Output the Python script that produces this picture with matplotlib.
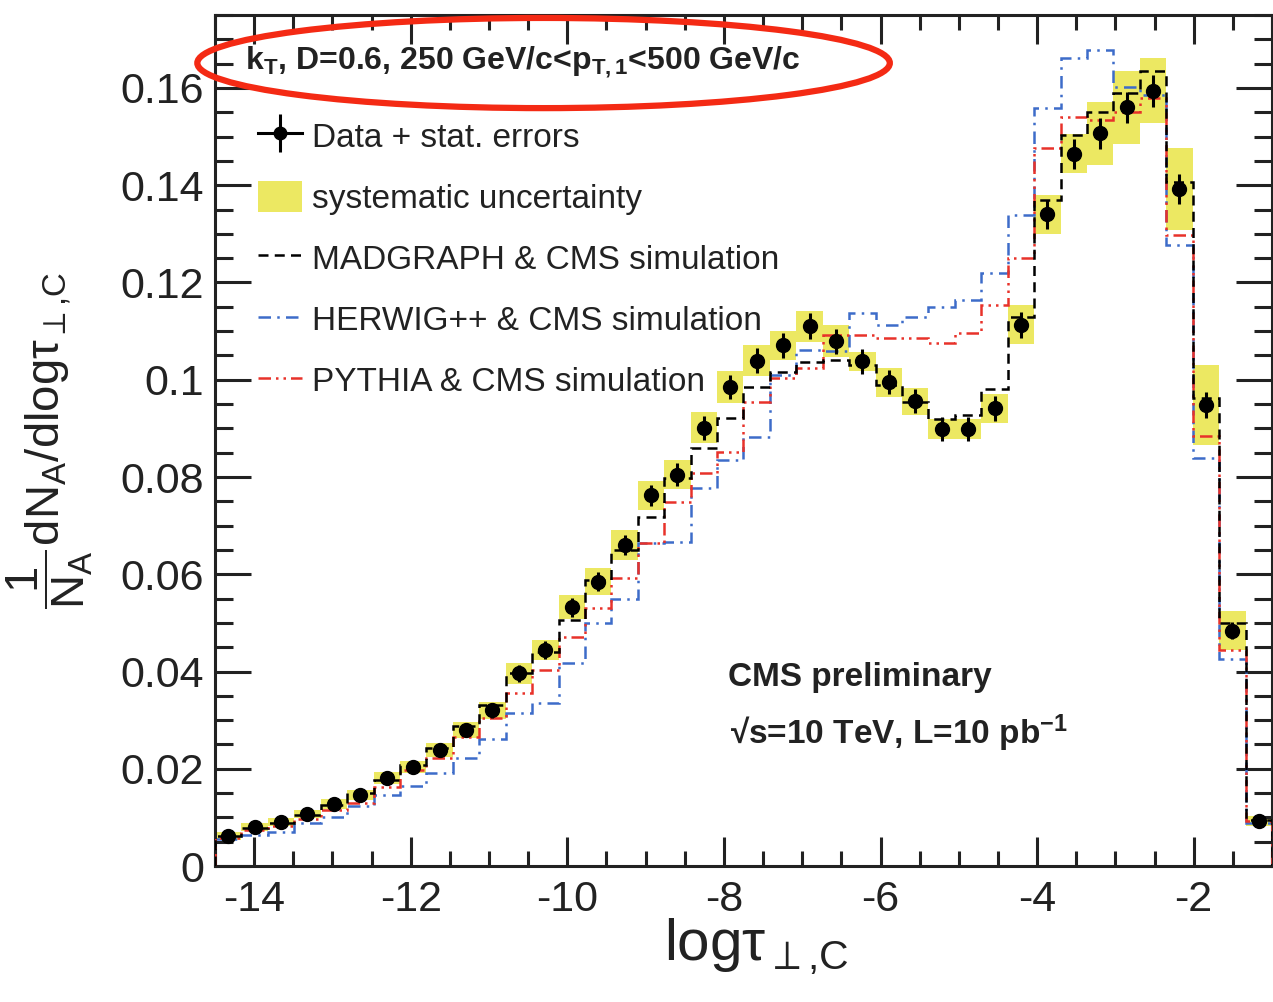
import numpy as np
import matplotlib.pyplot as plt
from matplotlib.lines import Line2D
from matplotlib.patches import Patch, Ellipse
from matplotlib.ticker import MultipleLocator, FuncFormatter

plt.rcParams['font.family'] = ['Liberation Sans', 'DejaVu Sans']
plt.rcParams['mathtext.fontset'] = 'custom'
plt.rcParams['mathtext.rm'] = 'Liberation Sans'
plt.rcParams['mathtext.it'] = 'Liberation Sans:italic'
plt.rcParams['mathtext.bf'] = 'Liberation Sans:bold'
plt.rcParams['mathtext.default'] = 'regular'
plt.rcParams['axes.unicode_minus'] = False

# binning of log(tau_perp,C)
x_lo, x_hi, n_bins = -14.5, -1.0, 40

data = [0.0062, 0.0081, 0.0091, 0.0107, 0.0127, 0.0146, 0.0181, 0.0204, 0.0239, 0.0280,
        0.0320, 0.0396, 0.0444, 0.0532, 0.0585, 0.0660, 0.0762, 0.0805, 0.0901, 0.0985,
        0.1039, 0.1071, 0.1110, 0.1079, 0.1038, 0.0995, 0.0956, 0.0899, 0.0899, 0.0941,
        0.1113, 0.1340, 0.1465, 0.1507, 0.1560, 0.1594, 0.1392, 0.0948, 0.0484, 0.0093]
stat = [0.0006, 0.0007, 0.0007, 0.0008, 0.0009, 0.0010, 0.0011, 0.0012, 0.0013, 0.0014,
        0.0015, 0.0017, 0.0018, 0.0019, 0.0020, 0.0021, 0.0022, 0.0023, 0.0024, 0.0025,
        0.0026, 0.0026, 0.0027, 0.0026, 0.0026, 0.0025, 0.0025, 0.0024, 0.0024, 0.0025,
        0.0027, 0.0030, 0.0031, 0.0032, 0.0032, 0.0033, 0.0031, 0.0026, 0.0018, 0.0008]
syst = [0.0008, 0.0008, 0.0008, 0.0009, 0.0010, 0.0010, 0.0013, 0.0013, 0.0014, 0.0017,
        0.0018, 0.0022, 0.0020, 0.0025, 0.0027, 0.0030, 0.0030, 0.0030, 0.0032, 0.0032,
        0.0032, 0.0030, 0.0032, 0.0033, 0.0020, 0.0030, 0.0028, 0.0020, 0.0020, 0.0030,
        0.0040, 0.0040, 0.0040, 0.0065, 0.0075, 0.0067, 0.0085, 0.0082, 0.0040, 0.0010]

madgraph = [0.0062, 0.0079, 0.0089, 0.0105, 0.0126, 0.0150, 0.0177, 0.0208, 0.0243, 0.0288,
            0.0331, 0.0397, 0.0440, 0.0506, 0.0588, 0.0650, 0.0718, 0.0798, 0.0860, 0.0921,
            0.0985, 0.1016, 0.1037, 0.1040, 0.1030, 0.0990, 0.0955, 0.0920, 0.0928, 0.0980,
            0.1130, 0.1370, 0.1503, 0.1551, 0.1590, 0.1634, 0.1407, 0.0962, 0.0500, 0.0095]
herwig = [0.0056, 0.0064, 0.0071, 0.0089, 0.0101, 0.0123, 0.0146, 0.0164, 0.0191, 0.0222,
          0.0261, 0.0315, 0.0335, 0.0418, 0.0500, 0.0549, 0.0664, 0.0667, 0.0777, 0.0835,
          0.0883, 0.1010, 0.1061, 0.1060, 0.1137, 0.1113, 0.1130, 0.1150, 0.1164, 0.1220,
          0.1339, 0.1559, 0.1662, 0.1678, 0.1603, 0.1586, 0.1277, 0.0840, 0.0426, 0.0088]
pythia = [0.0058, 0.0074, 0.0082, 0.0096, 0.0115, 0.0130, 0.0163, 0.0197, 0.0222, 0.0266,
          0.0304, 0.0356, 0.0403, 0.0472, 0.0531, 0.0592, 0.0664, 0.0749, 0.0808, 0.0852,
          0.0955, 0.1003, 0.1024, 0.1092, 0.1092, 0.1086, 0.1086, 0.1076, 0.1096, 0.1154,
          0.1250, 0.1477, 0.1541, 0.1534, 0.1551, 0.1580, 0.1298, 0.0885, 0.0445, 0.0093]

labels = ['Data + stat. errors', 'systematic uncertainty', 'MADGRAPH & CMS simulation',
          'HERWIG++ & CMS simulation', 'PYTHIA & CMS simulation']

yellow = '#ece862'
blue = '#3d6cc9'
red = '#e8322a'
ls_mad = (0, (4, 2.5))
ls_her = (0, (5, 2.5, 1, 2.5))
ls_pyt = (0, (5, 2, 1, 2, 1, 2))

edges = np.linspace(x_lo, x_hi, n_bins + 1)
centers = 0.5 * (edges[:-1] + edges[1:])
bw = edges[1] - edges[0]
data = np.array(data)
syst = np.array(syst)

fig = plt.figure(figsize=(12.73, 10.02), dpi=100)
ax = fig.add_axes([0.1689, 0.1357, 0.8303, 0.8493])

ax.bar(centers, 2 * syst, bottom=data - syst, width=bw, color=yellow, lw=0, zorder=1)
ax.stairs(herwig, edges, color=blue, lw=1.8, ls=ls_her, zorder=2)
ax.stairs(pythia, edges, color=red, lw=1.8, ls=ls_pyt, zorder=3)
ax.stairs(madgraph, edges, color='black', lw=1.8, ls=ls_mad, zorder=4)
ax.errorbar(centers, data, yerr=stat, fmt='o', color='black', ms=10,
            elinewidth=2.2, capsize=0, zorder=5)

ax.set_xlim(x_lo, x_hi)
ax.set_ylim(0, 0.175)
ax.xaxis.set_major_locator(MultipleLocator(2))
ax.xaxis.set_minor_locator(MultipleLocator(0.5))
ax.yaxis.set_major_locator(MultipleLocator(0.02))
ax.yaxis.set_minor_locator(MultipleLocator(0.005))
ax.yaxis.set_major_formatter(FuncFormatter(lambda v, p: f'{round(v, 3):g}'))
ax.xaxis.set_major_formatter(FuncFormatter(lambda v, p: f'{v:g}'))

ax.tick_params(which='both', direction='in', top=True, right=True, width=2.2,
               labelsize=31, colors='#222222')
ax.tick_params(axis='x', which='major', length=21, pad=10)
ax.tick_params(axis='x', which='minor', length=11)
ax.tick_params(axis='y', which='major', length=26, pad=8)
ax.tick_params(axis='y', which='minor', length=13)
for s in ax.spines.values():
    s.set_linewidth(2.2)
    s.set_color('#222222')

ax.set_xlabel(r'log$\tau_{{\perp}{,}C}$', fontsize=42, color='#222222')
ax.xaxis.set_label_coords(0.512, -0.06)
ax.set_ylabel(r'$\dfrac{1}{N_A}dN_A/dlog\tau_{{\perp}{,}C}$', fontsize=34, color='#222222')
ax.yaxis.set_label_coords(-0.114, 0.5)

handles = [
    (Line2D([], [], color='black', marker='o', ms=9, lw=2.2),
     Line2D([], [], color='black', marker='|', ms=27, mew=2.2, ls='none')),
    Patch(facecolor=yellow, edgecolor='none'),
    Line2D([], [], color='black', lw=1.8, ls=ls_mad),
    Line2D([], [], color=blue, lw=1.8, ls=ls_her),
    Line2D([], [], color=red, lw=1.8, ls=ls_pyt),
]
leg = ax.legend(handles, labels, loc='upper left', bbox_to_anchor=(0.041, 0.877),
                frameon=False, fontsize=24, handlelength=1.3, handleheight=1.05,
                handletextpad=0.3, labelspacing=0.82, borderpad=0, borderaxespad=0)
for t in leg.get_texts():
    t.set_color('#222222')

ax.text(0.028, 0.945, r'k$_{T}$, D=0.6, 250 GeV/c<p$_{T,1}$<500 GeV/c',
        transform=ax.transAxes, fontsize=23, fontweight='bold', va='center', color='#222222')
ax.text(0.485, 0.221, 'CMS preliminary', transform=ax.transAxes, fontsize=24,
        fontweight='bold', va='center', color='#222222')
ax.text(0.487, 0.156, '\u221as=10 TeV, L=10 pb$^{-1}$', transform=ax.transAxes,
        fontsize=24, fontweight='bold', va='center', color='#222222')

fig.patches.append(Ellipse((0.4270, 0.9371), 0.544, 0.090, transform=fig.transFigure,
                           fill=False, edgecolor='#f42a14', lw=4.5, zorder=10))

fig.savefig('out.png', dpi=100)
